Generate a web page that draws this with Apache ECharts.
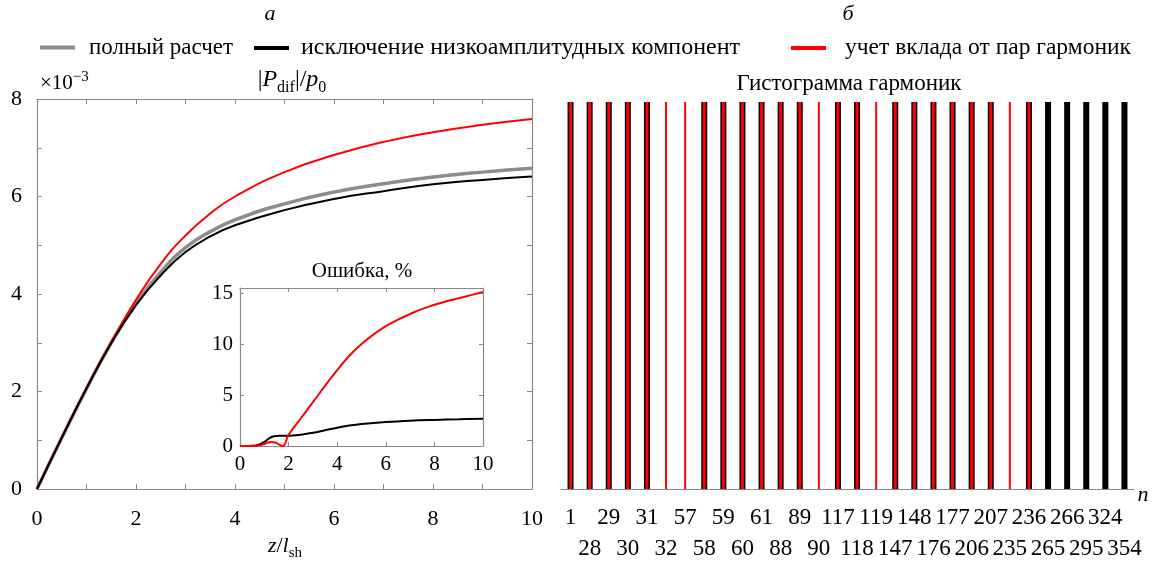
<!DOCTYPE html>
<html><head><meta charset="utf-8">
<script src="https://cdn.jsdelivr.net/npm/echarts/dist/echarts.min.js"></script>
<style>html,body{margin:0;padding:0;background:#fff}#c{width:1156px;height:564px}</style>
</head><body><div id="c"></div>
<script>
// ---- data ----
const zMain = [0, 0.5, 1, 1.5, 2, 2.5, 3, 3.5, 4, 5, 6, 7, 8, 9, 10];
const fullCalc   = [0, 1.05, 2.06, 3.0, 3.8, 4.45, 4.95, 5.28, 5.52, 5.85, 6.09, 6.26, 6.40, 6.50, 6.58];
const lowAmpExcl = [0, 1.05, 2.06, 2.99, 3.77, 4.38, 4.86, 5.18, 5.41, 5.72, 5.95, 6.11, 6.25, 6.34, 6.41];
const pairHarm   = [0, 1.05, 2.07, 3.02, 3.88, 4.62, 5.20, 5.65, 6.0, 6.5, 6.85, 7.12, 7.32, 7.47, 7.59];

const zErrExcl = [0, 0.5, 0.8, 1.0, 1.2, 1.4, 1.6, 2, 2.5, 3, 3.5, 4, 4.5, 5, 6, 7, 8, 9, 10];
const errExcl  = [0, 0.02, 0.15, 0.4, 0.75, 0.95, 1.0, 1.0, 1.1, 1.3, 1.55, 1.8, 2.0, 2.15, 2.35, 2.48, 2.56, 2.62, 2.68];
const zErrPair = [0, 0.5, 0.8, 1.0, 1.15, 1.3, 1.45, 1.6, 1.75, 2, 2.5, 3, 3.5, 4, 4.5, 5, 5.5, 6, 6.5, 7, 7.5, 8, 8.5, 9, 9.5, 10];
const errPair  = [0, 0, 0.05, 0.2, 0.35, 0.4, 0.35, 0.15, 0, 1.1, 2.7, 4.3, 5.9, 7.45, 8.85, 10.0, 10.95, 11.75, 12.4, 12.95, 13.45, 13.85, 14.2, 14.5, 14.8, 15.1];

const harmonicLabels = ['1','28','29','30','31','32','57','58','59','60','61','88','89','90','117','118','119','147','148','176','177','206','207','235','236','265','266','295','324','354'];
const blackBars = [1,1,1,1,1,0,0,1,1,1,1,1,1,0,1,1,0,1,1,1,1,1,1,0,1,1,1,1,1,1];
const redBars   = [1,1,1,1,1,1,1,1,1,1,1,1,1,1,1,1,1,1,1,1,1,1,1,1,1,0,0,0,0,0];

const mainTicksX = [0, 2, 4, 6, 8, 10];
// ---- chart ----
const FONT = 'Liberation Serif';
const GRAY = '#8c8c8c';
const AX = '#8a8a8a';
const pair = (xs, ys) => xs.map((x, i) => [x, ys[i]]);

const chart = echarts.init(document.getElementById('c'), null, {renderer: 'canvas'});

function valAxis(extra) {
  return Object.assign({
    type: 'value',
    axisLine: {show: true, onZero: false, lineStyle: {color: AX, width: 1.2}},
    axisTick: {show: true, inside: true, length: 5, lineStyle: {color: AX}},
    splitLine: {show: false},
    axisLabel: {show: false}
  }, extra);
}
const lbl = (size, margin, fmt) => ({show: true, fontFamily: FONT, fontSize: size, color: '#000', margin: margin, formatter: fmt});

const redWithBlack = redBars.map((r, i) => (r && blackBars[i]) ? 1 : null);
const redAlone = redBars.map((r, i) => (r && !blackBars[i]) ? 1 : null);
const blackData = blackBars.map(b => b ? 1 : null);

function legendAt(left, name, gap, size) {
  return {
    orient: 'horizontal', top: 36, left: left, padding: 0, itemWidth: 35, itemHeight: 4, icon: 'rect',
    data: [name],
    textStyle: {fontFamily: FONT, fontSize: size, color: '#000', padding: [0, 0, 0, gap]}
  };
}

const option = {
  animation: false,
  backgroundColor: '#fff',
  legend: [
    legendAt(40, 'полный расчет', 9, 23),
    legendAt(254, 'исключение низкоамплитудных компонент', 7, 24),
    legendAt(791, 'учет вклада от пар гармоник', 14, 23.5)
  ],
  grid: [
    {left: 37, right: 624, top: 99, bottom: 75},
    {left: 240, right: 673, top: 288, bottom: 118},
    {left: 561, right: 22, top: 102, bottom: 73}
  ],
  xAxis: [
    valAxis({gridIndex: 0, min: 0, max: 10, interval: 1, position: 'bottom',
      axisLabel: lbl(22, 19, v => (mainTicksX.indexOf(v) >= 0 ? String(v) : ''))}),
    valAxis({gridIndex: 0, min: 0, max: 10, interval: 1, position: 'top'}),
    valAxis({gridIndex: 1, min: 0, max: 10, interval: 2, position: 'bottom',
      axisTick: {show: true, inside: true, length: 4, lineStyle: {color: AX}},
      axisLabel: lbl(21, 8, v => String(v))}),
    valAxis({gridIndex: 1, min: 0, max: 10, interval: 2, position: 'top',
      axisTick: {show: true, inside: true, length: 4, lineStyle: {color: AX}}}),
    {type: 'category', gridIndex: 2, data: harmonicLabels, position: 'bottom',
      axisLine: {show: true, lineStyle: {color: AX, width: 1.2}},
      axisTick: {show: false},
      axisLabel: {show: true, interval: 0, fontFamily: FONT, fontSize: 23, color: '#000', margin: 13, lineHeight: 31,
        formatter: (v, i) => (i % 2 ? '\n' + v : v)}},
    {type: 'category', gridIndex: 2, data: harmonicLabels, show: false},
    {type: 'category', gridIndex: 2, data: harmonicLabels, show: false}
  ],
  yAxis: [
    valAxis({gridIndex: 0, min: 0, max: 8, interval: 1, position: 'left',
      axisLabel: lbl(22, 15, v => (v % 2 === 0 ? String(v) : ''))}),
    valAxis({gridIndex: 0, min: 0, max: 8, interval: 1, position: 'right'}),
    valAxis({gridIndex: 1, min: 0, max: 15.5, interval: 5, position: 'left',
      axisTick: {show: true, inside: true, length: 4, lineStyle: {color: AX}},
      axisLabel: Object.assign(lbl(21, 7, v => (v % 5 === 0 ? String(v) : '')), {showMaxLabel: false})}),
    valAxis({gridIndex: 1, min: 0, max: 15.5, interval: 5, position: 'right',
      axisTick: {show: true, inside: true, length: 4, lineStyle: {color: AX}}}),
    {type: 'value', gridIndex: 2, min: 0, max: 1, show: false}
  ],
  series: [
    {name: 'полный расчет', type: 'line', xAxisIndex: 0, yAxisIndex: 0, smooth: true, symbol: 'none',
      color: GRAY, lineStyle: {color: GRAY, width: 3.5}, data: pair(zMain, fullCalc)},
    {name: 'учет вклада от пар гармоник', type: 'line', xAxisIndex: 0, yAxisIndex: 0, smooth: true, symbol: 'none',
      color: '#ff0000', lineStyle: {color: '#ff0000', width: 2}, data: pair(zMain, pairHarm)},
    {name: 'исключение низкоамплитудных компонент', type: 'line', xAxisIndex: 0, yAxisIndex: 0, smooth: true, symbol: 'none',
      color: '#000', lineStyle: {color: '#000', width: 2}, data: pair(zMain, lowAmpExcl)},
    {name: 'err-excl', type: 'line', xAxisIndex: 2, yAxisIndex: 2, smooth: 0.4, symbol: 'none',
      lineStyle: {color: '#000', width: 2}, data: pair(zErrExcl, errExcl)},
    {name: 'err-pair', type: 'line', xAxisIndex: 2, yAxisIndex: 2, smooth: 0.5, symbol: 'none',
      lineStyle: {color: '#ff0000', width: 2}, data: pair(zErrPair, errPair)},
    {name: 'hist-black', type: 'bar', xAxisIndex: 4, yAxisIndex: 4, barWidth: 6,
      itemStyle: {color: '#000'}, data: blackData},
    {name: 'hist-red-in', type: 'bar', xAxisIndex: 5, yAxisIndex: 4, barWidth: 3,
      itemStyle: {color: '#ff0000'}, data: redWithBlack},
    {name: 'hist-red', type: 'bar', xAxisIndex: 6, yAxisIndex: 4, barWidth: 2,
      itemStyle: {color: '#ff0000'}, data: redAlone}
  ],
  graphic: [
    {type: 'text', x: 270, y: 14, style: {text: 'а', font: 'italic 22px "Liberation Serif"', fill: '#000', align: 'center', verticalAlign: 'middle'}},
    {type: 'text', x: 848, y: 14, style: {text: 'б', font: 'italic 22px "Liberation Serif"', fill: '#000', align: 'center', verticalAlign: 'middle'}},
    {type: 'text', x: 40, y: 82, style: {text: '{n|×10}{sup|−3}', fill: '#000', verticalAlign: 'middle',
      rich: {n: {fontFamily: FONT, fontSize: 21, lineHeight: 24, verticalAlign: 'bottom'}, sup: {fontFamily: FONT, fontSize: 15, lineHeight: 24, verticalAlign: 'top'}}}},
    {type: 'text', x: 292, y: 82, style: {text: '{n||}{i|P}{sub|dif}{n||/}{i|p}{sub|0}', fill: '#000', align: 'center', verticalAlign: 'middle',
      rich: {n: {fontFamily: FONT, fontSize: 24, lineHeight: 28, verticalAlign: 'top'},
             i: {fontFamily: FONT, fontSize: 24, fontStyle: 'italic', lineHeight: 28, verticalAlign: 'top'},
             sub: {fontFamily: FONT, fontSize: 16, lineHeight: 16, verticalAlign: 'bottom'}}}},
    {type: 'text', x: 285, y: 548, style: {text: '{i|z}{n|/}{i|l}{sub|sh}', fill: '#000', align: 'center', verticalAlign: 'middle',
      rich: {n: {fontFamily: FONT, fontSize: 22, lineHeight: 26, verticalAlign: 'top'},
             i: {fontFamily: FONT, fontSize: 22, fontStyle: 'italic', lineHeight: 26, verticalAlign: 'top'},
             sub: {fontFamily: FONT, fontSize: 15, lineHeight: 15, verticalAlign: 'bottom'}}}},
    {type: 'text', x: 362, y: 271, style: {text: 'Ошибка, %', font: '21px "Liberation Serif"', fill: '#000', align: 'center', verticalAlign: 'middle'}},
    {type: 'text', x: 849, y: 84, style: {text: 'Гистограмма гармоник', font: '23px "Liberation Serif"', fill: '#000', align: 'center', verticalAlign: 'middle'}},
    {type: 'text', x: 1143, y: 495, style: {text: 'n', font: 'italic 22px "Liberation Serif"', fill: '#000', align: 'center', verticalAlign: 'middle'}}
  ]
};
chart.setOption(option);
</script></body></html>
